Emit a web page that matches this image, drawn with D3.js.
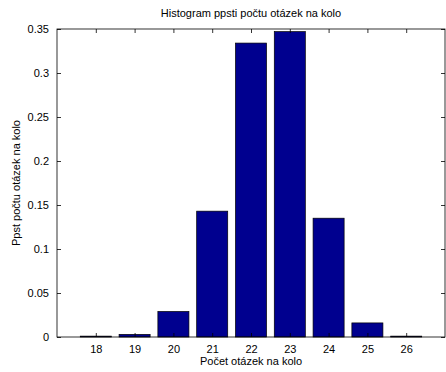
<!DOCTYPE html>
<html><head><meta charset="utf-8">
<script src="https://cdn.jsdelivr.net/npm/d3@7"></script>
<style>body{margin:0;background:#fff}svg{display:block}text{font-family:"Liberation Sans",Arial,sans-serif;fill:#000}</style>
</head><body><svg id="c" width="446" height="372"></svg>
<script>
const categories = [18, 19, 20, 21, 22, 23, 24, 25, 26];
const values = [0.001, 0.003, 0.029, 0.143, 0.334, 0.347, 0.135, 0.016, 0.001];
const yTicks = [0, 0.05, 0.1, 0.15, 0.2, 0.25, 0.3, 0.35];
const title = "Histogram ppsti počtu otázek na kolo";
const xLabel = "Počet otázek na kolo";
const yLabel = "Ppst počtu otázek na kolo";

const L = 57, R = 445, T = 29, B = 337;
const svg = d3.select("#c");
const x = d3.scaleLinear().domain([17, 27]).range([L, R]);
const y = d3.scaleLinear().domain([0, 0.35]).range([B, T]);
const bw = 0.8;

svg.append("g").selectAll("rect").data(categories).join("rect")
  .attr("x", d => x(d - bw/2)).attr("width", d => x(d + bw/2) - x(d - bw/2))
  .attr("y", (d,i) => y(values[i])).attr("height", (d,i) => y(0) - y(values[i]))
  .attr("fill", "#00008f").attr("stroke", "#000").attr("stroke-width", 0.7);

const fmt = d => d3.format("~g")(d);
const gx = svg.append("g").attr("transform", `translate(0,${B})`)
  .call(d3.axisBottom(x).tickValues(categories).tickSize(-4).tickPadding(8));
const gxt = svg.append("g").attr("transform", `translate(0,${T})`)
  .call(d3.axisTop(x).tickValues(categories).tickSize(-4).tickFormat(""));
const gy = svg.append("g").attr("transform", `translate(${L},0)`)
  .call(d3.axisLeft(y).tickValues(yTicks).tickFormat(fmt).tickSize(-4).tickPadding(8));
const gyr = svg.append("g").attr("transform", `translate(${R},0)`)
  .call(d3.axisRight(y).tickValues(yTicks).tickSize(-4).tickFormat(""));
[gx, gxt, gy, gyr].forEach(g => {
  g.select(".domain").remove();
  g.selectAll("line").attr("stroke", "#000").attr("stroke-width", 0.8);
  g.selectAll("text").attr("font-size", 11).attr("font-family", '"Liberation Sans",Arial,sans-serif').attr("fill", "#000");
});
svg.append("rect").attr("x", L).attr("y", T).attr("width", R - L).attr("height", B - T)
  .attr("fill", "none").attr("stroke", "#000").attr("stroke-width", 0.8);

svg.append("text").attr("x", (L+R)/2).attr("y", 17).attr("text-anchor", "middle").attr("font-size", 11).text(title);
svg.append("text").attr("x", (L+R)/2).attr("y", 365).attr("text-anchor", "middle").attr("font-size", 11).text(xLabel);
svg.append("text").attr("transform", `translate(20,${(T+B)/2}) rotate(-90)`).attr("text-anchor", "middle").attr("font-size", 11).text(yLabel);
</script></body></html>
